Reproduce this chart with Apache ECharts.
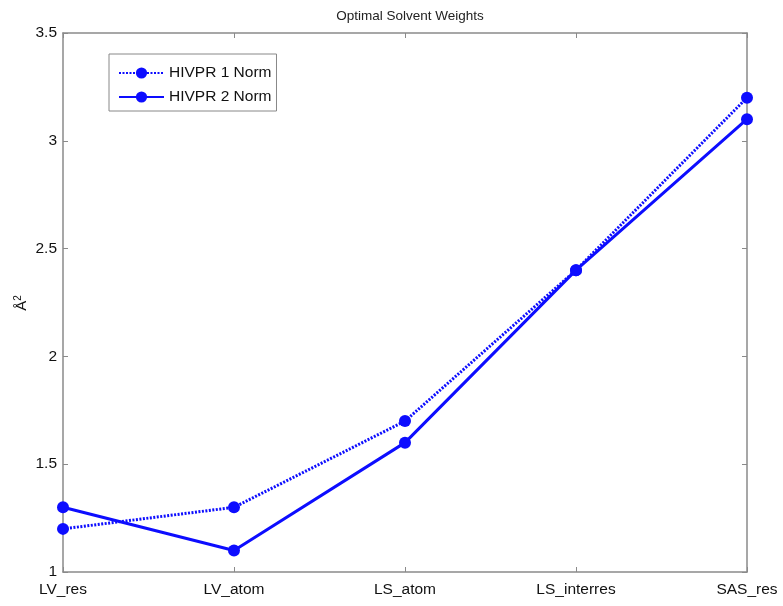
<!DOCTYPE html>
<html>
<head>
<meta charset="utf-8">
<script src="https://cdn.jsdelivr.net/npm/echarts@6/dist/echarts.min.js"></script>
<style>html,body{margin:0;padding:0;background:#fff;}#c{width:783px;height:606px;}</style>
</head>
<body>
<div id="c"></div>
<script>
const categories = ['LV_res', 'LV_atom', 'LS_atom', 'LS_interres', 'SAS_res'];
const hivpr1 = [1.2, 1.3, 1.7, 2.4, 3.2];
const hivpr2 = [1.3, 1.1, 1.6, 2.4, 3.1];
const yMin = 1, yMax = 3.5, yStep = 0.5;
const yAxisTitle = 'Å{sup|2}';

const blue = '#0d0dff';
const axisGray = '#8a8a8a';
const font = 'Liberation Sans, Arial, Helvetica, sans-serif';

const chart = echarts.init(document.getElementById('c'), null, {renderer: 'canvas'});
chart.setOption({
  animation: false,
  backgroundColor: '#fff',
  title: {
    text: 'Optimal Solvent Weights',
    left: 405, top: 4, textAlign: 'center',
    textStyle: {fontFamily: font, fontSize: 13.5, fontWeight: 'normal', color: '#222'}
  },
  graphic: [{
    type: 'text',
    x: 22, y: 303,
    rotation: Math.PI / 2,
    style: {
      text: yAxisTitle,
      fontFamily: font, fontSize: 15, fill: '#111',
      align: 'center', verticalAlign: 'middle',
      rich: {sup: {fontSize: 10, verticalAlign: 'top', padding: [0, 0, 8, 0], fontFamily: font, fill: '#111'}}
    }
  }],
  legend: {
    left: 109, top: 54, orient: 'vertical',
    padding: [11, 5, 6, 9],
    itemGap: 8,
    itemWidth: 45, itemHeight: 14,
    backgroundColor: '#fff',
    borderColor: '#888', borderWidth: 1,
    textStyle: {fontFamily: font, fontSize: 15.5, color: '#111'},
    data: ['HIVPR 1 Norm', 'HIVPR 2 Norm']
  },
  grid: {left: 63, right: 36, top: 33, bottom: 34, containLabel: false},
  xAxis: [{
    type: 'category', data: categories, boundaryGap: false,
    axisLine: {lineStyle: {color: axisGray, width: 1.5}},
    axisTick: {inside: true, length: 5, lineStyle: {color: axisGray}},
    axisLabel: {fontFamily: font, fontSize: 15.5, color: '#111', margin: 10},
    splitLine: {show: false}
  }, {
    type: 'category', data: categories, boundaryGap: false, position: 'top',
    axisLine: {lineStyle: {color: axisGray, width: 1.5}},
    axisTick: {inside: true, length: 5, lineStyle: {color: axisGray}},
    axisLabel: {show: false}
  }],
  yAxis: [{
    type: 'value', min: yMin, max: yMax, interval: yStep,
    axisLine: {show: true, lineStyle: {color: axisGray, width: 1.5}},
    axisTick: {show: true, inside: true, length: 5, lineStyle: {color: axisGray}},
    axisLabel: {fontFamily: font, fontSize: 15.5, color: '#111', margin: 6},
    splitLine: {show: false}
  }, {
    type: 'value', min: yMin, max: yMax, interval: yStep, position: 'right',
    axisLine: {show: true, lineStyle: {color: axisGray, width: 1.5}},
    axisTick: {show: true, inside: true, length: 5, lineStyle: {color: axisGray}},
    axisLabel: {show: false},
    splitLine: {show: false}
  }],
  series: [{
    name: 'HIVPR 1 Norm', type: 'line', data: hivpr1,
    symbol: 'circle', symbolSize: 12,
    itemStyle: {color: blue},
    lineStyle: {color: blue, width: 3, type: [2, 1.5]}
  }, {
    name: 'HIVPR 2 Norm', type: 'line', data: hivpr2,
    symbol: 'circle', symbolSize: 12,
    itemStyle: {color: blue},
    lineStyle: {color: blue, width: 3, type: 'solid'}
  }]
});
</script>
</body>
</html>
